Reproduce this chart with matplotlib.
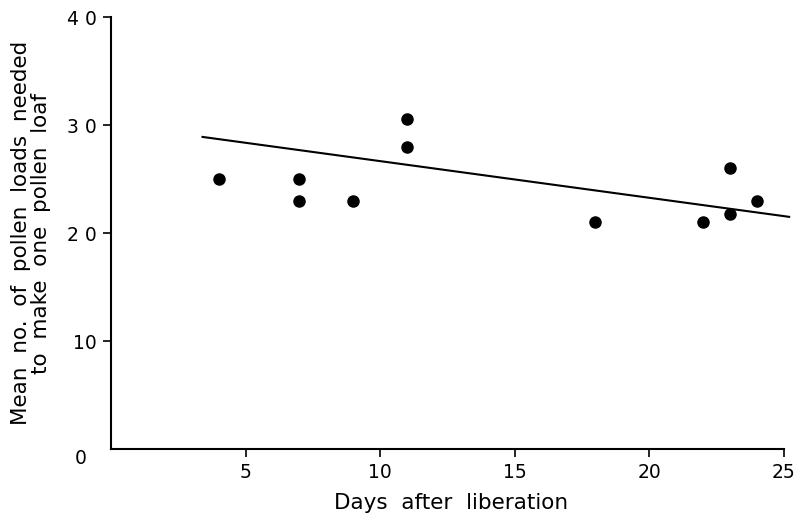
import matplotlib.pyplot as plt

# points
days = [4, 7, 7, 9, 11, 11, 18, 22, 23, 23, 24]
loads = [25, 25, 23, 23, 30.6, 28, 21, 21, 26, 21.8, 23]

# regression line end points
fit_x = [3.4, 25.2]
fit_y = [28.9, 21.5]

plt.rcParams['font.family'] = ['DejaVu Sans']

fig = plt.figure(figsize=(7.99, 5.17), dpi=100)
ax = fig.add_axes([0.139, 0.1315, 0.852, 0.8355])

ax.plot(fit_x, fit_y, '-', color='black', lw=1.5, clip_on=False)
ax.plot(days, loads, 'o', color='black', ms=8)

ax.set_xlim(0, 25.3)
ax.set_ylim(0, 40)
ax.spines['top'].set_visible(False)
ax.spines['right'].set_visible(False)
ax.spines['bottom'].set_bounds(0, 25)
ax.spines['left'].set_linewidth(1.5)
ax.spines['bottom'].set_linewidth(1.5)

ax.set_xticks([5, 10, 15, 20, 25])
ax.set_yticks([10, 20, 30, 40])
ax.set_yticklabels(['10', '2 0', '3 0', '4 0'])
ax.tick_params(axis='both', direction='out', length=6, width=1.2,
               labelsize=13.5, pad=4)
ax.text(-0.9, -0.9, '0', fontsize=13.5, ha='right', va='center')

ax.set_xlabel('Days  after  liberation', fontsize=15.5, labelpad=8)
ax.set_ylabel('Mean  no.  of  pollen  loads  needed\nto  make  one  pollen  loaf',
              fontsize=15.5, labelpad=12, linespacing=1.0)

fig.savefig('out.png', dpi=100)
